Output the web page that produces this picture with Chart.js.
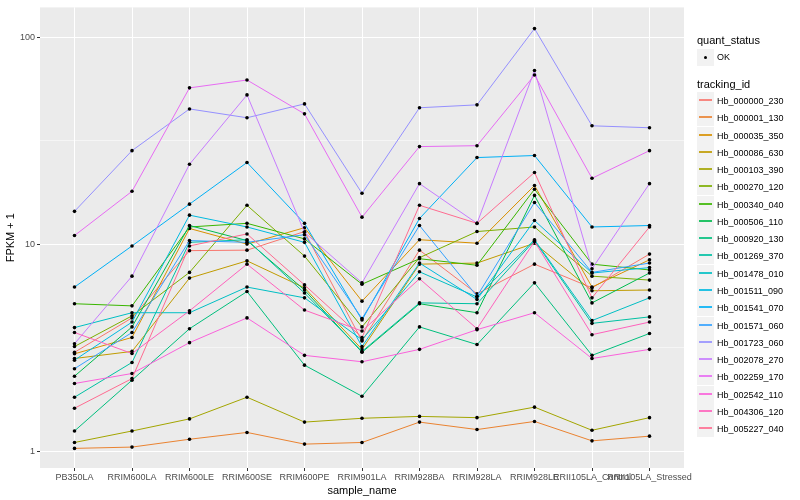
<!DOCTYPE html>
<html>
<head>
<meta charset="utf-8">
<script src="https://cdn.jsdelivr.net/npm/chart.js@4.4.0/dist/chart.umd.min.js"></script>
<style>
  body { margin: 0; background: #fff; font-family: "Liberation Sans", Arial, sans-serif; }
  #wrap { position: relative; width: 800px; height: 500px; }
  #legend { position: absolute; left: 0; top: 0; width: 800px; height: 500px; pointer-events: none; }
  .ltitle { position: absolute; left: 697px; font-size: 11px; color: #000; line-height: 12px; }
  .lkey { position: absolute; left: 697px; width: 17px; height: 17px; background: #F2F2F2; }
  .lline { position: absolute; left: 2px; width: 13px; top: 7px; height: 2px; opacity: 0.85; }
  .ldot { position: absolute; left: 7px; top: 7px; width: 3px; height: 3px; border-radius: 50%; background: #000; }
  .ltext { position: absolute; left: 717px; font-size: 9px; color: #000; line-height: 10px; }
</style>
</head>
<body>
<div id="wrap">
  <canvas id="chart" width="800" height="500"></canvas>
  <div id="legend"></div>
</div>
<script>
// samples on the x axis
const samples = ['PB350LA', 'RRIM600LA', 'RRIM600LE', 'RRIM600SE', 'RRIM600PE', 'RRIM901LA',
                 'RRIM928BA', 'RRIM928LA', 'RRIM928LE', 'RRII105LA_Control', 'RRII105LA_Stressed'];

// FPKM + 1 per gene
const hb_000000_230 = [3.0, 4.4, 9.3, 9.35, 11.5, 3.4, 9.35, 5.75, 8.0, 6.15, 8.95];
const hb_000001_130 = [1.03, 1.045, 1.14, 1.23, 1.08, 1.10, 1.38, 1.27, 1.39, 1.12, 1.18];
const hb_000035_350 = [2.95, 3.54, 11.9, 10.0, 12.0, 5.3, 10.5, 10.1, 19.2, 6.2, 8.4];
const hb_000086_630 = [2.8, 3.03, 6.85, 8.3, 6.15, 3.1, 8.0, 8.1, 10.1, 5.95, 6.0];
const hb_000103_390 = [1.10, 1.25, 1.43, 1.82, 1.38, 1.44, 1.47, 1.45, 1.63, 1.26, 1.45];
const hb_000270_120 = [3.2, 4.5, 7.3, 15.4, 8.75, 3.98, 8.6, 11.5, 12.1, 7.0, 6.7];
const hb_000340_040 = [5.15, 5.03, 12.1, 12.6, 10.6, 6.4, 8.5, 7.9, 18.4, 8.0, 7.5];
const hb_000506_110 = [2.3, 3.98, 12.3, 10.4, 6.0, 3.0, 5.15, 4.66, 17.2, 5.2, 7.25];
const hb_000920_130 = [1.25, 2.2, 3.9, 5.9, 2.6, 1.84, 3.98, 3.27, 6.5, 2.9, 3.7];
const hb_001269_370 = [1.82, 2.68, 10.2, 10.5, 5.8, 3.03, 5.2, 5.15, 10.4, 4.14, 4.45];
const hb_001478_010 = [3.95, 4.66, 4.66, 6.2, 5.5, 3.45, 7.35, 5.55, 10.5, 4.27, 5.5];
const hb_001511_090 = [2.75, 4.2, 13.8, 12.1, 10.2, 3.2, 8.1, 5.4, 13.0, 7.25, 7.7];
const hb_001541_070 = [6.2, 9.8, 15.6, 24.8, 12.6, 4.3, 13.3, 26.2, 26.8, 12.1, 12.3];
const hb_001571_060 = [2.5, 3.74, 10.4, 10.2, 11.1, 4.37, 12.3, 5.6, 15.9, 7.3, 8.1];
const hb_001723_060 = [14.4, 28.3, 45, 40.8, 47.6, 17.6, 45.6, 47.1, 110, 37.3, 36.5];
const hb_002078_270 = [3.3, 7.0, 24.3, 52.6, 11.4, 6.5, 19.6, 12.6, 69, 7.6, 19.6];
const hb_002259_170 = [11.0, 18.0, 56.9, 62.1, 42.6, 13.5, 29.6, 29.9, 65.6, 20.8, 28.3];
const hb_002542_110 = [2.12, 2.37, 3.34, 4.4, 2.9, 2.7, 3.1, 3.86, 4.66, 2.8, 3.1];
const hb_004306_120 = [3.74, 2.96, 4.76, 8.0, 4.8, 3.8, 6.8, 3.9, 10.3, 3.65, 4.2];
const hb_005227_040 = [1.61, 2.24, 9.8, 11.2, 6.35, 3.54, 15.4, 12.6, 22.2, 5.5, 12.1];

const trackingIds = ['Hb_000000_230', 'Hb_000001_130', 'Hb_000035_350', 'Hb_000086_630', 'Hb_000103_390',
                     'Hb_000270_120', 'Hb_000340_040', 'Hb_000506_110', 'Hb_000920_130', 'Hb_001269_370',
                     'Hb_001478_010', 'Hb_001511_090', 'Hb_001541_070', 'Hb_001571_060', 'Hb_001723_060',
                     'Hb_002078_270', 'Hb_002259_170', 'Hb_002542_110', 'Hb_004306_120', 'Hb_005227_040'];
const seriesValues = [hb_000000_230, hb_000001_130, hb_000035_350, hb_000086_630, hb_000103_390,
                      hb_000270_120, hb_000340_040, hb_000506_110, hb_000920_130, hb_001269_370,
                      hb_001478_010, hb_001511_090, hb_001541_070, hb_001571_060, hb_001723_060,
                      hb_002078_270, hb_002259_170, hb_002542_110, hb_004306_120, hb_005227_040];

const yTicks = [1, 3.1623, 10, 31.623, 100];
const yTickLabels = ['1', '', '10', '', '100'];

// ggplot hue palette for 20 groups
const colors = ['#F8766D', '#EA8331', '#D89000', '#C09B00', '#A3A500', '#7CAE00', '#39B600', '#00BB4E',
                '#00BF7D', '#00C1A3', '#00BFC4', '#00BAE0', '#00B0F6', '#35A2FF', '#9590FF', '#C77CFF',
                '#E76BF3', '#FA62DB', '#FF62BC', '#FF6C91'];

const FONT = '"Liberation Sans", Arial, sans-serif';

const panelBg = {
    id: 'panelBg',
    beforeDraw(chart) {
        const { ctx, chartArea: a } = chart;
        ctx.save();
        ctx.fillStyle = '#EBEBEB';
        ctx.fillRect(a.left, a.top, a.right - a.left, a.bottom - a.top);
        ctx.restore();
    }
};

const datasets = seriesValues.map((vals, i) => ({
    label: trackingIds[i],
    data: vals.map((v, j) => ({ x: j, y: v })),
    borderColor: colors[i],
    borderWidth: 1,
    pointRadius: 1.8,
    pointBackgroundColor: '#000',
    pointBorderWidth: 0,
    tension: 0,
    order: trackingIds.length - i
}));

new Chart(document.getElementById('chart'), {
    type: 'line',
    data: { datasets: datasets },
    plugins: [panelBg],
    options: {
        responsive: false,
        animation: false,
        devicePixelRatio: 1,
        layout: { padding: { top: 5, right: 116, left: 0, bottom: 0 } },
        plugins: {
            legend: { display: false },
            tooltip: { enabled: false }
        },
        scales: {
            x: {
                type: 'linear',
                min: -0.6,
                max: 10.6,
                afterBuildTicks(scale) {
                    scale.ticks = samples.map((_, i) => ({ value: i }));
                },
                afterFit(scale) { scale.height = 32; },
                border: { display: false },
                grid: { color: '#FFFFFF', lineWidth: 1, tickColor: '#333333', tickLength: 3 },
                ticks: {
                    autoSkip: false,
                    maxRotation: 0,
                    minRotation: 0,
                    padding: 1,
                    color: '#4D4D4D',
                    font: { family: FONT, size: 9 },
                    callback: (value) => samples[value]
                },
                title: {
                    display: true,
                    text: 'sample_name',
                    color: '#000',
                    font: { family: FONT, size: 11 },
                    padding: { top: 0, bottom: 2 }
                }
            },
            y: {
                type: 'logarithmic',
                min: 0.828,
                max: 139.3,
                afterBuildTicks(scale) {
                    scale.ticks = yTicks.map(v => ({ value: v }));
                },
                afterFit(scale) { scale.width = 40; },
                border: { display: false },
                grid: {
                    color: '#FFFFFF',
                    lineWidth: (ctx) => (yTickLabels[ctx.index] ? 1 : 0.5),
                    tickColor: (ctx) => (yTickLabels[ctx.index] ? '#333333' : 'rgba(0,0,0,0)'),
                    tickLength: 3
                },
                ticks: {
                    padding: 2,
                    color: '#4D4D4D',
                    font: { family: FONT, size: 9 },
                    callback: (value, index) => yTickLabels[index]
                },
                title: {
                    display: true,
                    text: 'FPKM + 1',
                    color: '#000',
                    font: { family: FONT, size: 11 },
                    padding: { top: 4, bottom: 0 }
                }
            }
        }
    }
});

// legend on the right, drawn as html text
const legend = document.getElementById('legend');
function addEl(cls, top, text) {
    const el = document.createElement('div');
    el.className = cls;
    el.style.top = Math.round(top) + 'px';
    if (text) el.textContent = text;
    legend.appendChild(el);
    return el;
}
addEl('ltitle', 34, 'quant_status');
const okKey = addEl('lkey', 49);
const dot = document.createElement('div');
dot.className = 'ldot';
okKey.appendChild(dot);
addEl('ltext', 52, 'OK');
addEl('ltitle', 78, 'tracking_id');
trackingIds.forEach((id, i) => {
    const top = 92 + i * 17.27;
    const key = addEl('lkey', top);
    const line = document.createElement('div');
    line.className = 'lline';
    line.style.backgroundColor = colors[i];
    key.appendChild(line);
    addEl('ltext', top + 4, id);
});
</script>
</body>
</html>
